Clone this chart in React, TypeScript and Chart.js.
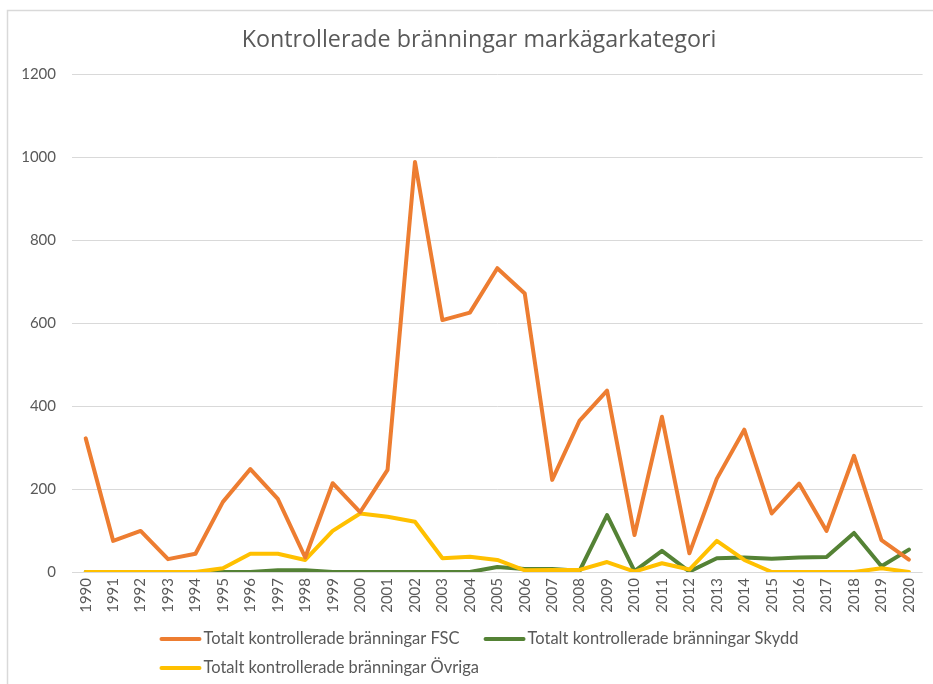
import React, { useEffect, useRef } from "react";
import { Chart, registerables } from "chart.js";

Chart.register(...registerables);

const titleText = "Kontrollerade bränningar markägarkategori";

const years = [
  "1990", "1991", "1992", "1993", "1994", "1995", "1996", "1997", "1998", "1999",
  "2000", "2001", "2002", "2003", "2004", "2005", "2006", "2007", "2008", "2009",
  "2010", "2011", "2012", "2013", "2014", "2015", "2016", "2017", "2018", "2019", "2020",
];

const fscValues = [
  322, 75, 99, 31, 44, 169, 248, 176, 35, 214,
  144, 246, 988, 607, 625, 732, 671, 222, 365, 437,
  89, 374, 45, 225, 343, 141, 213, 99, 280, 77, 30,
];

const skyddValues = [
  0, 0, 0, 0, 0, 0, 0, 4, 4, 0,
  0, 0, 0, 0, 0, 12, 7, 7, 3, 137,
  2, 51, 1, 33, 35, 32, 35, 36, 94, 14, 54,
];

const ovrigaValues = [
  0, 0, 0, 0, 0, 9, 44, 44, 29, 99,
  141, 133, 121, 33, 37, 29, 4, 5, 5, 24,
  1, 21, 6, 75, 29, 0, 0, 0, 0, 9, 0,
];

const seriesNames = [
  "Totalt kontrollerade bränningar FSC",
  "Totalt kontrollerade bränningar Skydd",
  "Totalt kontrollerade bränningar Övriga",
];
const seriesValues = [fscValues, skyddValues, ovrigaValues];
const seriesColors = ["#ED7D31", "#548235", "#FFC000"];
const seriesOrder = [0, 2, 1];

const yMin = 0;
const yMax = 1200;
const yStep = 200;

const FONT = "Lato, 'Open Sans', sans-serif";
const TITLE_FONT = "'Open Sans', Lato, sans-serif";
const TEXT = "#595959";
const GRID = "#D9D9D9";

const backgroundPlugin = {
  id: "bgFrame",
  beforeDraw(chart: any) {
    const ctx = chart.ctx;
    ctx.save();
    ctx.fillStyle = "#ffffff";
    ctx.fillRect(0, 0, chart.width, chart.height);
    ctx.strokeStyle = GRID;
    ctx.lineWidth = 1.5;
    ctx.strokeRect(7.5, 10.5, chart.width + 40, chart.height + 40);
    ctx.restore();
  },
};

const titlePlugin = {
  id: "excelTitle",
  afterDraw(chart: any) {
    const ctx = chart.ctx;
    ctx.save();
    ctx.font = `23.3px ${TITLE_FONT}`;
    ctx.fillStyle = TEXT;
    ctx.textAlign = "center";
    ctx.textBaseline = "alphabetic";
    ctx.fillText(titleText, 479, 47);
    ctx.restore();
  },
};

const legendPlugin = {
  id: "excelLegend",
  afterDraw(chart: any) {
    const ctx = chart.ctx;
    const ds = chart.data.datasets;
    ctx.save();
    ctx.font = `16.5px ${FONT}`;
    ctx.textBaseline = "middle";
    ctx.textAlign = "left";
    const lineLen = 42;
    const textGap = 2;
    const itemGap = 24;
    const widths = ds.map((d: any) => lineLen + textGap + ctx.measureText(d.label).width);
    const row1Width = widths[0] + itemGap + widths[1];
    const centerX = 479;
    const left = centerX - row1Width / 2;
    const rowY = [639, 668];
    const positions = [
      { x: left, y: rowY[0] },
      { x: left + widths[0] + itemGap, y: rowY[0] },
      { x: left, y: rowY[1] },
    ];
    ds.forEach((d: any, i: number) => {
      const p = positions[i];
      ctx.strokeStyle = d.borderColor;
      ctx.lineWidth = 4;
      ctx.lineCap = "round";
      ctx.beginPath();
      ctx.moveTo(p.x + 2, p.y);
      ctx.lineTo(p.x + lineLen - 2, p.y);
      ctx.stroke();
      ctx.fillStyle = TEXT;
      ctx.fillText(d.label, p.x + lineLen + textGap, p.y);
    });
    ctx.restore();
  },
};

export default function App() {
  const ref = useRef<HTMLCanvasElement>(null);

  useEffect(() => {
    const canvas = ref.current;
    if (!canvas) return;
    const chart = new Chart(canvas, {
      type: "line",
      data: {
        labels: years,
        datasets: seriesNames.map((name, i) => ({
          label: name,
          data: seriesValues[i],
          borderColor: seriesColors[i],
          backgroundColor: seriesColors[i],
          borderWidth: 4,
          pointRadius: 0,
          pointHoverRadius: 0,
          tension: 0,
          fill: false,
          borderJoinStyle: "round" as const,
          borderCapStyle: "round" as const,
          order: seriesOrder[i],
        })),
      },
      options: {
        animation: false,
        responsive: false,
        devicePixelRatio: 1,
        events: [],
        layout: { padding: { left: 0, right: 6, top: 74, bottom: 62 } },
        plugins: {
          legend: { display: false },
          tooltip: { enabled: false },
          title: { display: false },
        },
        scales: {
          x: {
            type: "category",
            offset: true,
            grid: { display: false, drawTicks: false },
            border: { display: false },
            ticks: {
              autoSkip: false,
              minRotation: 90,
              maxRotation: 90,
              padding: 6,
              color: TEXT,
              font: { family: FONT, size: 15 },
            },
            afterFit: (s: any) => {
              s.height = 50;
            },
          },
          y: {
            min: yMin,
            max: yMax,
            ticks: {
              stepSize: yStep,
              padding: 16,
              color: TEXT,
              font: { family: FONT, size: 15 },
              callback: (v: any) => String(v),
            },
            grid: { color: GRID, lineWidth: 1, drawTicks: false },
            border: { display: false },
            afterFit: (s: any) => {
              s.width = 72;
            },
          },
        },
      },
      plugins: [backgroundPlugin, titlePlugin, legendPlugin],
    });
    return () => chart.destroy();
  }, []);

  return (
    <div style={{ position: "absolute", left: 0, top: 0, width: 933, height: 684 }}>
      <canvas ref={ref} width={933} height={684} style={{ width: 933, height: 684, display: "block" }} />
    </div>
  );
}
